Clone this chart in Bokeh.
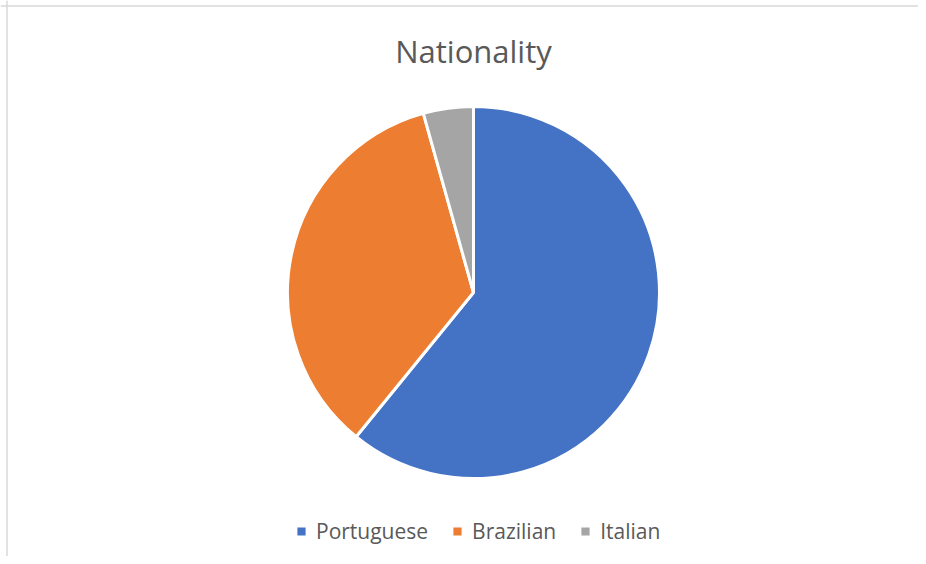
import numpy as np
from bokeh.plotting import figure
from bokeh.models import Legend, LegendItem, Span, Label, ColumnDataSource, Range1d
from bokeh.embed import file_html
from bokeh.resources import INLINE

# ---- data ----
categories = ["Portuguese", "Brazilian", "Italian"]
counts = [14, 8, 1]
colors = ["#4472C4", "#ED7D31", "#A5A5A5"]
title_text = "Nationality"

W, H = 918, 556
p = figure(width=W, height=H, output_backend="svg", toolbar_location=None,
           x_range=Range1d(0, W), y_range=Range1d(0, H), min_border=0,
           background_fill_color="white", border_fill_color="white")
p.axis.visible = False
p.grid.visible = False
p.outline_line_color = None

total = float(sum(counts))
cum = np.cumsum([0] + counts)
start = [np.pi / 2 - 2 * np.pi * cum[i] / total for i in range(len(counts))]
end = [np.pi / 2 - 2 * np.pi * cum[i + 1] / total for i in range(len(counts))]

cx, cy, rad = 473, H - 292, 186
src = ColumnDataSource(dict(cat=categories, start=start, end=end, color=colors))
r = p.wedge(x=cx, y=cy, radius=rad, start_angle="start", end_angle="end",
            direction="clock", fill_color="color", line_color="white",
            line_width=3, source=src)

items = [LegendItem(label=c, renderers=[r], index=i) for i, c in enumerate(categories)]
legend = Legend(items=items, orientation="horizontal", location=(294, 11),
                glyph_width=14, glyph_height=14, label_standoff=8, spacing=22,
                label_text_font="Open Sans", label_text_font_size="21px",
                label_text_color="#595959", border_line_color=None,
                background_fill_alpha=0, padding=0, margin=0)
p.add_layout(legend, "center")

p.add_layout(Label(x=cx, y=H - 50, text=title_text, text_align="center",
                   text_baseline="middle", text_font="Open Sans",
                   text_font_size="31px", text_color="#595959"))

p.add_layout(Span(location=6.5, dimension="height", line_color="#D9D9D9", line_width=1.5))
p.add_layout(Span(location=H - 5.5, dimension="width", line_color="#D9D9D9", line_width=1.5))

open("out.html", "w").write(file_html(p, INLINE))
